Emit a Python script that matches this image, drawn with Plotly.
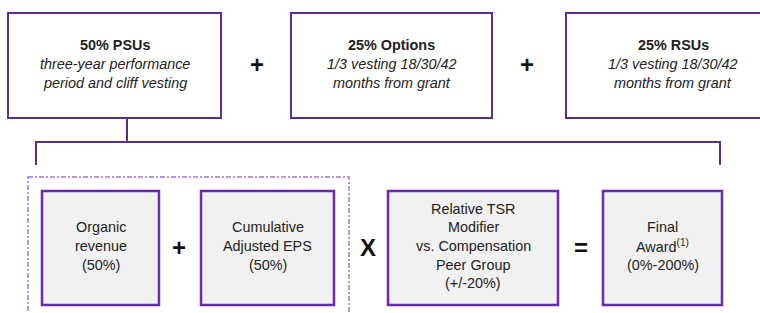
import plotly.graph_objects as go

# ---- content ----
top_titles = ["50% PSUs", "25% Options", "25% RSUs"]
top_sub1 = ["three-year performance", "1/3 vesting 18/30/42", "1/3 vesting 18/30/42"]
top_sub2 = ["period and cliff vesting", "months from grant", "months from grant"]
top_ops = ["+", "+"]

bottom_lines = [
    ["Organic", "revenue", "(50%)"],
    ["Cumulative", "Adjusted EPS", "(50%)"],
    ["Relative TSR", "Modifier", "vs. Compensation", "Peer Group", "(+/-20%)"],
    ["Final", "Award<sup>(1)</sup>", "(0%-200%)"],
]
bottom_ops = ["+", "X", "="]

# ---- layout constants ----
W, H = 760, 313
top_boxes = [(8, 221), (291, 492), (566, 780)]
top_y = (13, 118)
bot_boxes = [(42, 159), (201, 334), (388, 558), (603, 722)]
bot_y = (191, 305)
top_op_x = [257, 527]
bot_op_x = [179, 368, 581]

PURPLE_DARK = "#5b2d8e"
PURPLE = "#6a2cae"
PURPLE_LIGHT = "#9a78d2"
FILL = "#f0f1f0"
TXT = "#222222"
FONT = "Liberation Sans, Arial, sans-serif"
FS = 14.4

fig = go.Figure()
shapes = []
ann = []

for (x0, x1), t, s1, s2 in zip(top_boxes, top_titles, top_sub1, top_sub2):
    shapes.append(dict(type="rect", x0=x0, x1=x1, y0=top_y[0], y1=top_y[1],
                       line=dict(color=PURPLE_DARK, width=2), fillcolor="white"))
    cx = (x0 + x1) / 2
    if x1 > W:
        cx = 673
    ann.append(dict(x=cx, y=45, text="<b>%s</b>" % t, font=dict(size=FS, color=TXT)))
    ann.append(dict(x=cx, y=64, text="<i>%s</i>" % s1, font=dict(size=FS, color=TXT)))
    ann.append(dict(x=cx, y=83, text="<i>%s</i>" % s2, font=dict(size=FS, color=TXT)))

for x, op in zip(top_op_x, top_ops):
    ann.append(dict(x=x, y=64, text="<b>%s</b>" % op, font=dict(size=24, color="#111")))

# connector
shapes.append(dict(type="line", x0=127, x1=127, y0=118, y1=142, line=dict(color=PURPLE_DARK, width=2)))
shapes.append(dict(type="line", x0=36, x1=721, y0=142, y1=142, line=dict(color=PURPLE_DARK, width=2)))
shapes.append(dict(type="line", x0=36, x1=36, y0=141, y1=165, line=dict(color=PURPLE_DARK, width=2)))
shapes.append(dict(type="line", x0=720, x1=720, y0=141, y1=165, line=dict(color=PURPLE_DARK, width=2)))

# dashed group box
shapes.append(dict(type="rect", x0=28, x1=349, y0=177, y1=330,
                   line=dict(color=PURPLE_LIGHT, width=1.5, dash="5px,2px,2px,2px")))

for (x0, x1), lines in zip(bot_boxes, bottom_lines):
    shapes.append(dict(type="rect", x0=x0, x1=x1, y0=bot_y[0], y1=bot_y[1],
                       line=dict(color=PURPLE, width=2.5), fillcolor=FILL))
    cx = (x0 + x1) / 2
    n = len(lines)
    start = 246 - (n - 1) / 2 * 18.6
    for i, ln in enumerate(lines):
        ann.append(dict(x=cx, y=start + i * 18.6, text=ln, font=dict(size=FS, color=TXT)))

for x, op in zip(bot_op_x, bottom_ops):
    ann.append(dict(x=x, y=247, text="<b>%s</b>" % op, font=dict(size=24, color="#111")))

for a in ann:
    a.update(xref="x", yref="y", showarrow=False, xanchor="center", yanchor="middle")

fig.update_layout(
    width=W, height=H, margin=dict(l=0, r=0, t=0, b=0),
    paper_bgcolor="white", plot_bgcolor="white",
    font=dict(family=FONT),
    xaxis=dict(range=[0, W], visible=False, fixedrange=True),
    yaxis=dict(range=[H, 0], visible=False, fixedrange=True),
    shapes=shapes, annotations=ann, showlegend=False,
)
fig.write_html("out.html", config={"displayModeBar": False},
               post_script="document.body.style.margin='0';document.body.style.overflow='hidden';")
